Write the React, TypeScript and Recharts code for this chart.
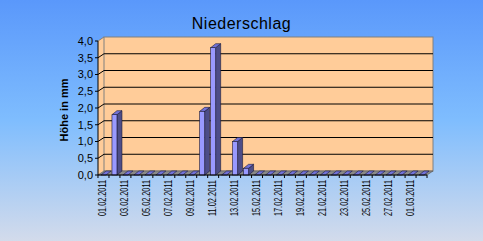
import React from 'react';
import { BarChart, Bar, XAxis, YAxis, ReferenceArea, ReferenceLine } from 'recharts';

const dates = [
  '01.02.2011', '02.02.2011', '03.02.2011', '04.02.2011', '05.02.2011', '06.02.2011',
  '07.02.2011', '08.02.2011', '09.02.2011', '10.02.2011', '11.02.2011', '12.02.2011',
  '13.02.2011', '14.02.2011', '15.02.2011', '16.02.2011', '17.02.2011', '18.02.2011',
  '19.02.2011', '20.02.2011', '21.02.2011', '22.02.2011', '23.02.2011', '24.02.2011',
  '25.02.2011', '26.02.2011', '27.02.2011', '28.02.2011', '01.03.2011', '02.03.2011',
];
const rain = [
  0, 1.8, 0, 0, 0, 0,
  0, 0, 0, 1.9, 3.8, 0,
  1.0, 0.2, 0, 0, 0, 0,
  0, 0, 0, 0, 0, 0,
  0, 0, 0, 0, 0, 0,
];
const yTicks = [0, 0.5, 1, 1.5, 2, 2.5, 3, 3.5, 4];
const gridValues = [0.5, 1, 1.5, 2, 2.5, 3, 3.5];

const data = dates.map((d, i) => ({ date: d, value: rain[i] }));

const FONT = '"Liberation Sans", Arial, sans-serif';
const WALL = '#FFCC99';
const EDGE = '#808080';
const FLOOR = '#8a8a8a';
const FRONT = '#9999FF';
const SIDE = '#4D4D88';
const TOP = '#7272D8';
const OUTLINE = '#1a1a38';
const WX = 6; // wall depth offset x
const WY = 4; // wall depth offset y
const BX = 5; // bar depth x
const BY = 4; // bar depth y

const Wall = (props: any) => {
  const { x, y, width, height } = props;
  const b = y + height;
  return (
    <g>
      <polygon points={`${x - WX},${y + WY} ${x},${y} ${x},${b} ${x - WX},${b + WY}`} fill={WALL} />
      <rect x={x} y={y} width={width} height={height} fill={WALL} stroke={EDGE} strokeWidth={1} />
      <line x1={x - WX} y1={y + WY} x2={x} y2={y} stroke={EDGE} strokeWidth={1} />
      <polygon
        points={`${x},${b} ${x + width},${b} ${x + width - WX},${b + WY} ${x - WX},${b + WY}`}
        fill={FLOOR}
        stroke="#555"
        strokeWidth={0.6}
      />
    </g>
  );
};

const GridLine = (props: any) => {
  const { x1, y1, x2, y2 } = props;
  return (
    <polyline
      points={`${x1 - WX},${y1 + WY} ${x1},${y1} ${x2},${y2}`}
      fill="none"
      stroke="#000"
      strokeWidth={1}
    />
  );
};

const Bar3D = (props: any) => {
  const { x, y, width, height } = props;
  const t = y;
  const b = y + height;
  return (
    <g>
      {height > 0.5 && (
        <polygon
          points={`${x + width},${t} ${x + width + BX},${t - BY} ${x + width + BX},${b - BY} ${x + width},${b}`}
          fill={SIDE}
          stroke={OUTLINE}
          strokeWidth={0.6}
        />
      )}
      <polygon
        points={`${x},${t} ${x + BX},${t - BY} ${x + width + BX},${t - BY} ${x + width},${t}`}
        fill={TOP}
        stroke={OUTLINE}
        strokeWidth={0.6}
      />
      {height > 0.5 && (
        <rect x={x} y={t} width={width} height={height} fill={FRONT} stroke={OUTLINE} strokeWidth={0.6} />
      )}
    </g>
  );
};

const XTick = (props: any) => {
  const { x, y, payload, index } = props;
  const half = 5.5;
  return (
    <g>
      {index === 0 && <line x1={x - half} y1={y} x2={x - half} y2={y + 3} stroke="#000" />}
      <line x1={x + half} y1={y} x2={x + half} y2={y + 3} stroke="#000" />
      {index % 2 === 0 && (
        <text
          transform={`translate(${x + 3},${y + 5}) rotate(-90)`}
          textAnchor="end"
          fontSize={10}
          fontFamily={FONT}
          fill="#000"
          textLength={36}
          lengthAdjust="spacingAndGlyphs"
        >
          {payload.value}
        </text>
      )}
    </g>
  );
};

const YLabel = (props: any) => {
  const vb = props.viewBox || { x: 0, y: 41, width: 98, height: 134 };
  const cy = vb.y + vb.height / 2 + 2;
  return (
    <text
      transform={`translate(68,${cy}) rotate(-90)`}
      textAnchor="middle"
      fontSize={11}
      fontWeight="bold"
      fontFamily={FONT}
      fill="#000"
    >
      Höhe in mm
    </text>
  );
};

const fmt = (v: number) => v.toFixed(1).replace('.', ',');

export default function App() {
  return (
    <div
      style={{
        position: 'absolute',
        left: 0,
        top: 0,
        width: 483,
        height: 241,
        overflow: 'hidden',
        background: 'linear-gradient(180deg, #5a98fb 0%, #7fbdfe 50%, #d3dbeb 100%)',
        fontFamily: FONT,
      }}
    >
      <div
        style={{
          position: 'absolute',
          left: 0,
          top: 15,
          width: 483,
          textAlign: 'center',
          fontSize: 16,
          lineHeight: '18px',
          letterSpacing: 0.5,
          color: '#000',
          fontFamily: FONT,
        }}
      >
        Niederschlag
      </div>
      <div style={{ position: 'absolute', left: 0, top: 0 }}>
        <BarChart width={483} height={241} data={data} margin={{ top: 37, right: 50, left: 104, bottom: 70 }}>
          <XAxis dataKey="date" hide />
          <YAxis hide domain={[0, 4]} ticks={yTicks} />
          <ReferenceArea y1={0} y2={4} shape={Wall} ifOverflow="visible" zIndex={-200} />
          {gridValues.map((v) => (
            <ReferenceLine key={v} y={v} shape={GridLine} ifOverflow="visible" zIndex={-150} />
          ))}
          <Bar dataKey="value" fill="none" isAnimationActive={false} shape={() => null} />
        </BarChart>
      </div>
      <div style={{ position: 'absolute', left: 0, top: 0 }}>
        <BarChart width={483} height={241} data={data} margin={{ top: 41, right: 56, left: 0, bottom: 0 }} barSize={5}>
          <XAxis
            dataKey="date"
            interval={0}
            height={66}
            tick={<XTick />}
            tickLine={false}
            tickSize={0}
            tickMargin={0}
            axisLine={{ stroke: '#000' }}
          />
          <YAxis
            width={98}
            domain={[0, 4]}
            ticks={yTicks}
            interval={0}
            tickFormatter={fmt}
            tick={{ fontSize: 11, fill: '#000', fontFamily: FONT }}
            tickLine={{ stroke: '#000' }}
            tickSize={3}
            tickMargin={2}
            axisLine={{ stroke: '#000' }}
            label={<YLabel />}
          />
          <Bar dataKey="value" shape={Bar3D} isAnimationActive={false} />
        </BarChart>
      </div>
    </div>
  );
}
